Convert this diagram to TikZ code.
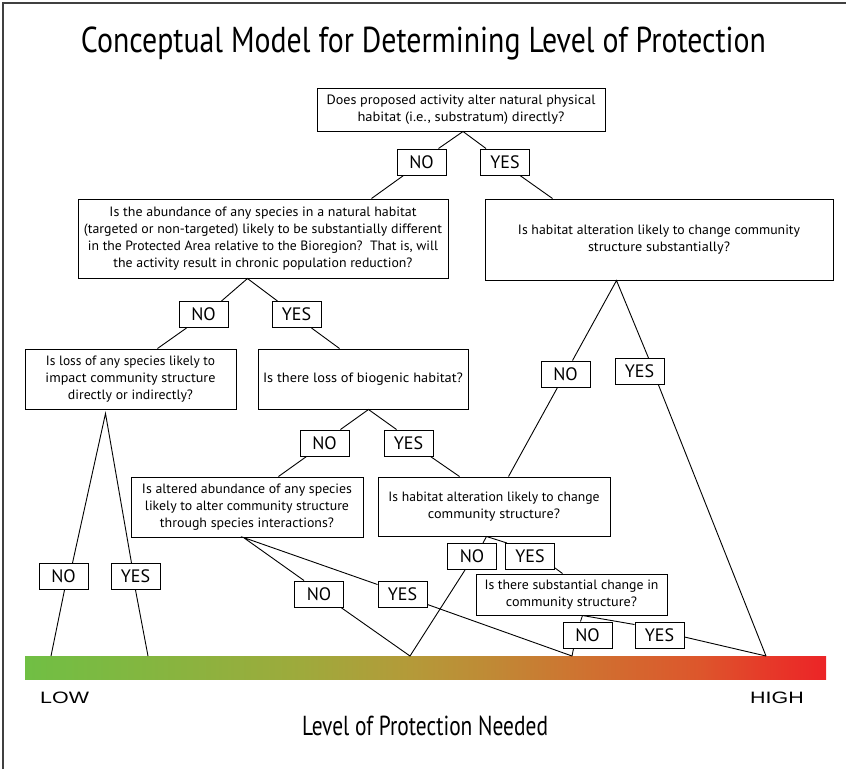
\documentclass[tikz,border=0pt]{standalone}
\usepackage{graphicx}
\usepackage{fontspec}
\setmainfont{PT Sans}
\newfontfamily\widefont[FakeStretch=1.3]{Liberation Sans}
\usetikzlibrary{calc}
\newcommand\fitto[2]{\resizebox{#1pt}{\height}{#2}}
\definecolor{s0}{RGB}{112,191,68}
\definecolor{s1}{RGB}{132,182,64}
\definecolor{s2}{RGB}{158,170,60}
\definecolor{s3}{RGB}{180,154,57}
\definecolor{s4}{RGB}{190,140,54}
\definecolor{s5}{RGB}{205,117,49}
\definecolor{s6}{RGB}{221,86,44}
\definecolor{s7}{RGB}{230,58,41}
\definecolor{s8}{RGB}{236,36,39}
\pgfdeclarehorizontalshading{protbar}{100bp}{color(0bp)=(s0); color(25bp)=(s0); color(32.7bp)=(s1); color(42.2bp)=(s2); color(49bp)=(s3); color(53.4bp)=(s4); color(59.1bp)=(s5); color(67.1bp)=(s6); color(71.2bp)=(s7); color(75bp)=(s8); color(100bp)=(s8)}
\tikzset{
  qbox/.style={draw, line width=1pt, fill=white, inner sep=0pt, align=center,
    font=\fontsize{13.5}{17}\selectfont},
  lbl/.style={draw, line width=1pt, fill=white, inner sep=0pt, minimum width=49pt,
    minimum height=26pt, font=\fontsize{18}{20}\selectfont},
  conn/.style={line width=0.9pt, black},
  frameline/.style={line width=1.3pt, black!75}
}
\begin{document}
\begin{tikzpicture}[x=1pt,y=-1pt]
\useasboundingbox (0,0) rectangle (846,769);
\draw[frameline] (3,769) -- (3,3) -- (846,3);
\node[font=\fontsize{36}{40}\selectfont, anchor=base, inner sep=0pt] (title) at (423.5,52) {\fitto{685}{Conceptual Model for Determining Level of Protection}};

% question boxes
\node[qbox, minimum width=288pt, minimum height=43pt] (q1) at (461,109.5) {\fitto{269}{Does proposed activity alter natural physical}\\\fitto{207}{habitat (i.e., substratum) directly?}};
\node[qbox, minimum width=370pt, minimum height=79pt] (q2) at (263,238.5) {\fitto{307}{Is the abundance of any species in a natural habitat}\\\fitto{358}{(targeted or non-targeted) likely to be substantially different}\\\fitto{350}{in the Protected Area relative to the Bioregion?\ \ That is, will}\\\fitto{299}{the activity result in chronic population reduction?}};
\node[qbox, minimum width=348pt, minimum height=81pt] (q3) at (659,239.5) {\fitto{282}{Is habitat alteration likely to change community}\\\fitto{142}{structure substantially?}};
\node[qbox, minimum width=211pt, minimum height=60pt] (q4) at (130.5,379) {\fitto{169}{Is loss of any species likely to}\\\fitto{170}{impact community structure}\\\fitto{125}{directly or indirectly?}};
\node[qbox, minimum width=210pt, minimum height=60pt] (q5) at (363,379) {\fitto{200}{Is there loss of biogenic habitat?}};
\node[qbox, minimum width=232pt, minimum height=60pt] (q6) at (247,507) {\fitto{210}{Is altered abundance of any species}\\\fitto{204}{likely to alter community structure}\\\fitto{174}{through species interactions?}};
\node[qbox, minimum width=232pt, minimum height=59pt] (q7) at (494,506.5) {\fitto{211}{Is habitat alteration likely to change}\\\fitto{132}{community structure?}};
\node[qbox, minimum width=191pt, minimum height=41pt] (q8) at (571.5,594.5) {\fitto{174}{Is there substantial change in}\\\fitto{131}{community structure?}};

% answer labels
\node[lbl] (n1) at (421.5,162) {NO};
\node[lbl] (y1) at (505,162) {YES};
\node[lbl] (n2) at (203.5,314.5) {NO};
\node[lbl] (y2) at (296.5,314.5) {YES};
\node[lbl] (n3) at (324.5,443) {NO};
\node[lbl] (y3) at (408.5,443) {YES};
\node[lbl] (n8) at (63.5,576.5) {NO};
\node[lbl] (y8) at (135.5,576.5) {YES};
\node[lbl] (n4) at (319,594) {NO};
\node[lbl] (y4) at (402.5,594) {YES};
\node[lbl] (n5) at (472,556.5) {NO};
\node[lbl] (y5) at (530,556.5) {YES};
\node[lbl] (n6) at (587.5,635) {NO};
\node[lbl] (y6) at (659.5,635) {YES};
\node[lbl] (n7) at (565.5,374) {NO};
\node[lbl] (y7) at (639.5,371.5) {YES};

% protection bar
\node[shade, shading=protbar, draw=none, inner sep=0pt, minimum width=801pt, minimum height=23pt, anchor=north west] (bar) at (25,656) {};
\coordinate (p1) at ($(bar.north west)+(26,0)$);
\coordinate (p2) at ($(bar.north west)+(123,0)$);
\coordinate (p3) at ($(bar.north west)+(385,0)$);
\coordinate (p4) at ($(bar.north west)+(547,0)$);
\coordinate (p5) at ($(bar.north west)+(741,0)$);

\node[font=\widefont\fontsize{16.5}{18}\selectfont, anchor=base west, inner sep=0pt] (low) at (40,703) {LOW};
\node[font=\widefont\fontsize{16.5}{18}\selectfont, anchor=base west, inner sep=0pt] (high) at (750,703) {HIGH};
\node[font=\fontsize{27.5}{30}\selectfont, anchor=base, inner sep=0pt] (axis) at (425,735) {\fitto{246}{Level of Protection Needed}};

% connectors
\coordinate (a1) at ($(q1.south)+(2,0)$);
\draw[conn] ($(n1.north west)+(42,0)$) -- (a1) -- ($(y1.north west)+(6,0)$);
\draw[conn] ($(n1.south west)+(7,0)$) -- ($(q2.north west)+(294,0)$);
\draw[conn] ($(y1.south west)+(40,0)$) -- ($(q3.north west)+(68,0)$);

\coordinate (a2) at ($(q2.south west)+(170,0)$);
\draw[conn] ($(n2.north west)+(43,0)$) -- (a2) -- ($(y2.north west)+(6,0)$);
\draw[conn] ($(n2.south west)+(8,0)$) -- ($(q4.north west)+(133,0)$);
\draw[conn] ($(y2.south west)+(40,0)$) -- ($(q5.north west)+(82,0)$);

\coordinate (a5) at ($(q5.south west)+(111,0)$);
\draw[conn] ($(n3.north west)+(41,0)$) -- (a5) -- ($(y3.north west)+(13,0)$);
\draw[conn] ($(n3.south west)+(7,0)$) -- ($(q6.north west)+(148,0)$);
\draw[conn] ($(y3.south east)+(-3,0)$) -- ($(q7.north west)+(82,0)$);

\coordinate (a4) at ($(q4.south west)+(81,4)$);
\draw[conn] ($(n8.north west)+(34,0)$) -- (a4) -- ($(y8.north west)+(21,0)$);
\draw[conn] ($(n8.south west)+(26,0)$) -- (p1);
\draw[conn] ($(y8.south west)+(25,0)$) -- (p2);

\coordinate (a6) at ($(q6.south west)+(113,0)$);
\draw[conn] ($(n4.north west)+(10,0)$) -- (a6) -- ($(y4.north west)+(0,4)$);
\draw[conn] ($(n4.south east)+(-3,0)$) -- (p3) -- ($(n5.south west)+(18,0)$);
\draw[conn] ($(y4.south east)+(0,-3)$) -- (p4);

\coordinate (a7) at ($(q7.south west)+(109,0)$);
\draw[conn] ($(n5.north west)+(36,0)$) -- (a7) -- ($(y5.north west)+(2,0)$);
\draw[conn] ($(y5.south east)+(0,-2)$) -- ($(q8.north west)+(87,0)$);

\coordinate (a8) at ($(q8.south west)+(107,0)$);
\draw[conn] ($(n6.north west)+(18,0)$) -- (a8) -- ($(y6.north west)+(0,3)$);
\draw[conn] ($(n6.south west)+(11,0)$) -- (p4);
\draw[conn] ($(y6.east)+(0,2)$) -- (p5);

\coordinate (a3) at ($(q3.south west)+(132,0)$);
\draw[conn] ($(n7.north west)+(32,0)$) -- (a3) -- ($(y7.north west)+(34,0)$);
\draw[conn] ($(n7.south west)+(17,0)$) -- ($(q7.north west)+(131,0)$);
\draw[conn] ($(y7.south west)+(44,0)$) -- (p5);
\end{tikzpicture}
\end{document}
